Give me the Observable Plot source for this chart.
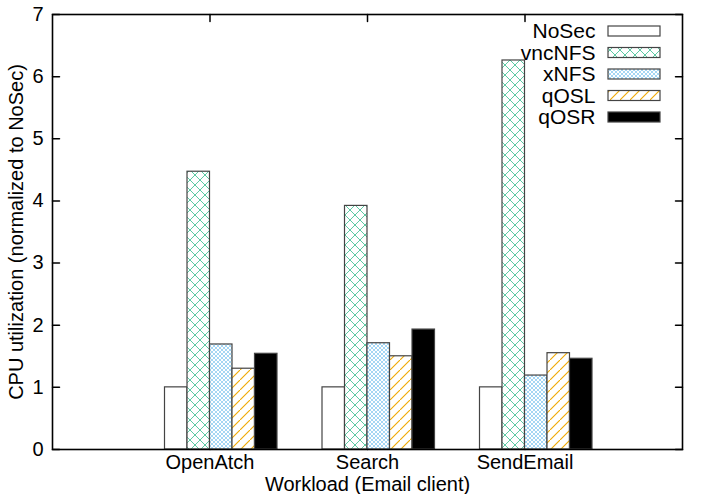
<!DOCTYPE html>
<html><head><meta charset="utf-8">
<script src="https://cdn.jsdelivr.net/npm/d3@7"></script>
<script src="https://cdn.jsdelivr.net/npm/@observablehq/plot@0.6"></script>
<style>
html,body{margin:0;padding:0;background:#fff;}
#defs{position:absolute;left:0;top:0;width:0;height:0;}
</style>
</head><body>
<svg id="defs" width="0" height="0"><defs>
<pattern id="pat-vnc" patternUnits="userSpaceOnUse" width="10" height="10">
  <rect width="10" height="10" fill="#fff"/>
  <path d="M-1,-1 L11,11 M11,-1 L-1,11" stroke="#4cc49a" stroke-width="0.9" fill="none"/>
</pattern>
<pattern id="pat-xnfs" patternUnits="userSpaceOnUse" width="4" height="4">
  <rect width="4" height="4" fill="#fff"/>
  <path d="M-1,-1 L5,5 M5,-1 L-1,5" stroke="#7cc4ef" stroke-width="0.7" fill="none"/>
</pattern>
<pattern id="pat-qosl" patternUnits="userSpaceOnUse" width="10" height="10">
  <rect width="10" height="10" fill="#fff"/>
  <path d="M-1,11 L11,-1" stroke="#f0a800" stroke-width="1.1" fill="none"/>
</pattern>
</defs></svg>
<div id="chart"></div>
<script>
// ---- data ----
const categories = ["OpenAtch", "Search", "SendEmail"];
const series = ["NoSec", "vncNFS", "xNFS", "qOSL", "qOSR"];
const NoSec  = [1.00, 1.00, 1.00];
const vncNFS = [4.47, 3.92, 6.26];
const xNFS   = [1.69, 1.71, 1.19];
const qOSL   = [1.30, 1.50, 1.55];
const qOSR   = [1.54, 1.93, 1.46];
const yTicks = [0, 1, 2, 3, 4, 5, 6, 7];

const values = [NoSec, vncNFS, xNFS, qOSL, qOSR];
const fills = ["#ffffff", "url(#pat-vnc)", "url(#pat-xnfs)", "url(#pat-qosl)", "#000000"];
const nSlots = 7; // 5 bars + gap of 2 per cluster

const tickShape = {draw(ctx, l) { ctx.moveTo(0, 0); ctx.lineTo(0, -l); }};
const catIdx = categories.map((c, i) => i);
const barStroke = "#444444";

const marks = [];
// legend (drawn first so bars can overlap it, as in the original)
series.forEach((s, j) => {
  marks.push(Plot.text([s], {
    text: d => d, frameAnchor: "top-right", textAnchor: "end", lineAnchor: "middle",
    dx: -87, dy: 17 + j * 21.5, fill: "black", fontSize: 21
  }));
  marks.push(Plot.rect([s], {
    fill: fills[j], stroke: barStroke, strokeWidth: 1.2,
    insetLeft: 556, insetRight: 22,
    insetTop: 17 + j * 21.5 - 5, insetBottom: 435 - (17 + j * 21.5 + 5)
  }));
});
// bottom x ticks (hidden behind bars)
marks.push(Plot.vector(catIdx, {x: d => d, frameAnchor: "bottom", rotate: 0, length: 7, anchor: "start", shape: tickShape, stroke: "black"}));
// bars
series.forEach((s, j) => {
  const rows = categories.map((c, i) => ({cat: c, i, v: values[j][i]}));
  marks.push(Plot.rectY(rows, {
    x1: d => d.i + (j - 2) / nSlots,
    x2: d => d.i + (j - 1) / nSlots,
    y: "v",
    fill: fills[j], stroke: barStroke, strokeWidth: 1.2, insetLeft: 0, insetRight: 0
  }));
});
// inward ticks
marks.push(Plot.vector(yTicks, {y: d => d, frameAnchor: "left", rotate: 90, length: 7, anchor: "start", shape: tickShape, stroke: "black"}));
marks.push(Plot.vector(yTicks, {y: d => d, frameAnchor: "right", rotate: -90, length: 7, anchor: "start", shape: tickShape, stroke: "black"}));
marks.push(Plot.vector(catIdx, {x: d => d, frameAnchor: "top", rotate: 180, length: 7, anchor: "start", shape: tickShape, stroke: "black"}));
// axes
marks.push(Plot.axisY({ticks: yTicks, tickSize: 0, tickPadding: 9, tickFormat: d => String(d), label: null, fontSize: 20}));
marks.push(Plot.axisX({ticks: catIdx, tickSize: 0, tickPadding: 5, tickFormat: i => categories[i], label: null, fontSize: 20}));
// axis titles
marks.push(Plot.text(["CPU utilization (normalized to NoSec)"], {text: d => d, frameAnchor: "left", textAnchor: "middle", lineAnchor: "middle", rotate: -90, dx: -36, fill: "black", fontSize: 20}));
marks.push(Plot.text(["Workload (Email client)"], {text: d => d, frameAnchor: "bottom", textAnchor: "middle", lineAnchor: "middle", dy: 35, fill: "black", fontSize: 20}));
marks.push(Plot.frame({stroke: "black", strokeWidth: 1.6}));

const chart = Plot.plot({
  width: 706,
  height: 494,
  marginLeft: 52,
  marginRight: 24,
  marginTop: 14,
  marginBottom: 45,
  x: {type: "linear", domain: [-1, 3], axis: null},
  y: {type: "linear", domain: [0, 7], axis: null},
  style: {fontFamily: "'Liberation Sans', Arial, sans-serif", fontSize: "20px", background: "#fff", color: "black", overflow: "visible"},
  marks
});
document.getElementById("chart").append(chart);
</script>
</body></html>
